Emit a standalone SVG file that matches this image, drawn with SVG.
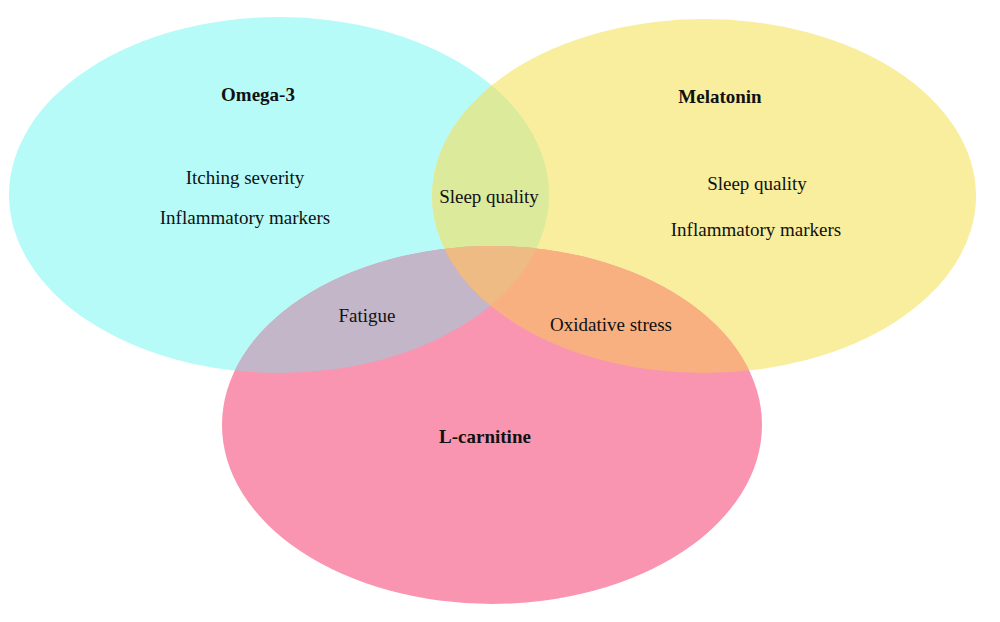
<svg xmlns="http://www.w3.org/2000/svg" width="1000" height="622" viewBox="0 0 1000 622">
<style>
text{font-family:"Liberation Serif","Times New Roman",serif;font-size:19px;fill:#111;text-anchor:middle}
.t{font-weight:bold;font-size:19px}
</style>
<defs>
<ellipse id="eC" cx="279" cy="195" rx="270" ry="178"/>
<ellipse id="eY" cx="704" cy="196" rx="272" ry="177"/>
<ellipse id="eP" cx="492" cy="425" rx="270" ry="179"/>
<clipPath id="cC"><use href="#eC"/></clipPath>
<clipPath id="cY"><use href="#eY"/></clipPath>
</defs>
<rect width="1000" height="622" fill="#fff"/>
<g id="omega3">
<use href="#eC" fill="#b6fbf8"/>
</g>
<g id="melatonin">
<use href="#eY" fill="#f8ee9e"/>
</g>
<g id="lcarnitine">
<use href="#eP" fill="#f995b0"/>
</g>
<g id="overlaps">
<use href="#eY" fill="#dcea9c" clip-path="url(#cC)"/>
<use href="#eP" fill="#c2b6c8" clip-path="url(#cC)"/>
<use href="#eP" fill="#f8b080" clip-path="url(#cY)"/>
<g clip-path="url(#cC)"><use href="#eP" fill="#eebb84" clip-path="url(#cY)"/></g>
</g>
<g id="labels">
<text class="t" x="258" y="101">Omega-3</text>
<text x="245" y="184">Itching severity</text>
<text x="245" y="224">Inflammatory markers</text>
<text x="489" y="203">Sleep quality</text>
<text class="t" x="720" y="103">Melatonin</text>
<text x="757" y="190">Sleep quality</text>
<text x="756" y="236">Inflammatory markers</text>
<text x="367" y="322">Fatigue</text>
<text x="611" y="331">Oxidative stress</text>
<text class="t" x="485" y="443">L-carnitine</text>
</g>
</svg>
